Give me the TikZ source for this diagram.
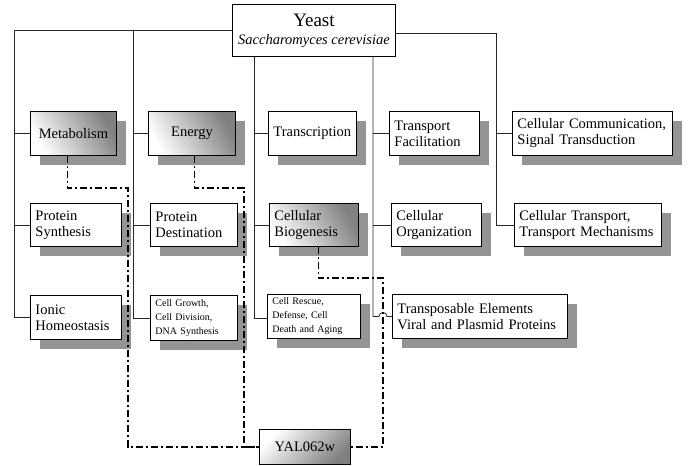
\documentclass[tikz,border=0pt]{standalone}
\usepackage{fontspec}
\setmainfont{Liberation Serif}
\usetikzlibrary{shadows, calc}

\tikzset{
  cat/.style={draw, line width=0.9pt, fill=white, anchor=north west,
    inner xsep=5pt, inner ysep=2pt, minimum height=44pt,
    font=\fontsize{14.5}{16}\selectfont,
    general shadow={fill=black!42, draw=none, shadow xshift=10pt, shadow yshift=-10pt}},
  small/.style={font=\fontsize{10}{14}\selectfont},
  shaded/.style={left color=white, right color=black!50, shading angle=120},
  link/.style={line width=0.8pt, black!85},
  trace/.style={line width=1.8pt, dash pattern=on 7pt off 3pt on 2pt off 3pt}
}

\begin{document}
\begin{tikzpicture}[x=1pt, y=-1pt]
    \useasboundingbox (0,0) rectangle (697,466);

    % Root
    \node[draw, line width=0.9pt, fill=white, anchor=north west, minimum width=163pt,
      minimum height=52pt, inner sep=0pt, align=center,
      font=\fontsize{14.5}{18}\selectfont] (yeast) at (232,4)
      {{\fontsize{19}{18}\selectfont Yeast}\\\textit{Saccharomyces cerevisiae}};

    % Row 1
    \node[cat, shaded, minimum width=86pt] (met) at (30,111) {Metabolism};
    \node[cat, shaded, minimum width=87pt] (energy) at (148,111) {Energy};
    \node[cat, minimum width=87pt] (transc) at (268,111) {Transcription};
    \node[cat, text width=80pt, align=left] (tfac) at (389,111) {Transport\\Facilitation};
    \node[cat, text width=150pt, align=left] (ccom) at (512,111) {Cellular Communication,\\Signal Transduction};

    % Row 2
    \node[cat, text width=81pt, align=left, minimum height=43pt] (psyn) at (30,203) {Protein\\Synthesis};
    \node[cat, text width=77pt, align=left, minimum height=43pt] (pdest) at (150,203) {Protein\\Destination};
    \node[cat, shaded, text width=79pt, align=left, minimum height=43pt] (bio) at (269,203) {Cellular\\Biogenesis};
    \node[cat, text width=80pt, align=left, minimum height=43pt] (corg) at (391,203) {Cellular\\Organization};
    \node[cat, text width=137pt, align=left, minimum height=43pt] (ctrans) at (514,203) {Cellular Transport,\\Transport Mechanisms};

    % Row 3
    \node[cat, text width=81pt, align=left] (ionic) at (30,295) {Ionic\\Homeostasis};
    \node[cat, small, text width=77pt, align=left, minimum height=45pt] (cgrow) at (150,295) {Cell Growth,\\Cell Division,\\DNA Synthesis};
    \node[cat, small, text width=83pt, align=left] (cresc) at (267,294) {Cell Rescue,\\Defense, Cell\\Death and Aging};
    \node[cat, text width=165pt, align=left] (trans) at (392,294) {Transposable Elements\\Viral and Plasmid Proteins};

    % Gene
    \node[draw, line width=0.9pt, anchor=north west, minimum width=91pt, minimum height=35pt,
      left color=white, right color=black!50, shading angle=45,
      font=\fontsize{14.5}{16}\selectfont] (yal) at (259,429) {YAL062w};

    % Tree
    \coordinate (c2) at ($(cgrow.west)+(-17,0)$);
    \coordinate (c3) at ($(cresc.west)+(-13,2)$);
    \coordinate (c4) at ($(trans.west)+(-19,0)$);
    \coordinate (c5) at ($(ctrans.west)+(-18,0)$);

    \draw[link] (yeast.west) -| ($(ionic.west)+(-16,0)$) -- (ionic.west);
    \draw[link] (met.west) -- ++(-16,0);
    \draw[link] (psyn.west) -- ++(-16,0);

    \draw[link] (c2 |- yeast.west) -- (c2) -- (cgrow.west);
    \draw[link] (energy.west) -- (energy.west -| c2);
    \draw[link] (pdest.west) -- (pdest.west -| c2);

    \draw[link] (yeast.south -| c3) -- (c3) -- (c3 -| cresc.west);
    \draw[link] (transc.west) -- (transc.west -| c3);
    \draw[link] (bio.west) -- (bio.west -| c3);

    \draw[link] (yeast.south -| c4) -- (c4) -- ++(6,0) arc (180:360:4) -- (trans.west);
    \draw[link] (tfac.west) -- (tfac.west -| c4);
    \draw[link] (corg.west) -- (corg.west -| c4);

    \draw[link] ($(yeast.east)+(0,3)$) -| (c5) -- (ctrans.west);
    \draw[link] (ccom.west) -- (ccom.west -| c5);

    % Gene links
    \draw[trace] ($(met.south)+(-6,0)$) |- ($(psyn.east)+(6,-37)$) |- (yal.west);
    \draw[trace] ($(energy.south)+(2.5,0)$) |- ($(pdest.east)+(6,-37)$) |- (yal.west);
    \draw[trace] ($(bio.south)+(4.5,0)$) |- ($(corg.south west)+(-8,31)$) |- (yal.east);

\end{tikzpicture}
\end{document}
